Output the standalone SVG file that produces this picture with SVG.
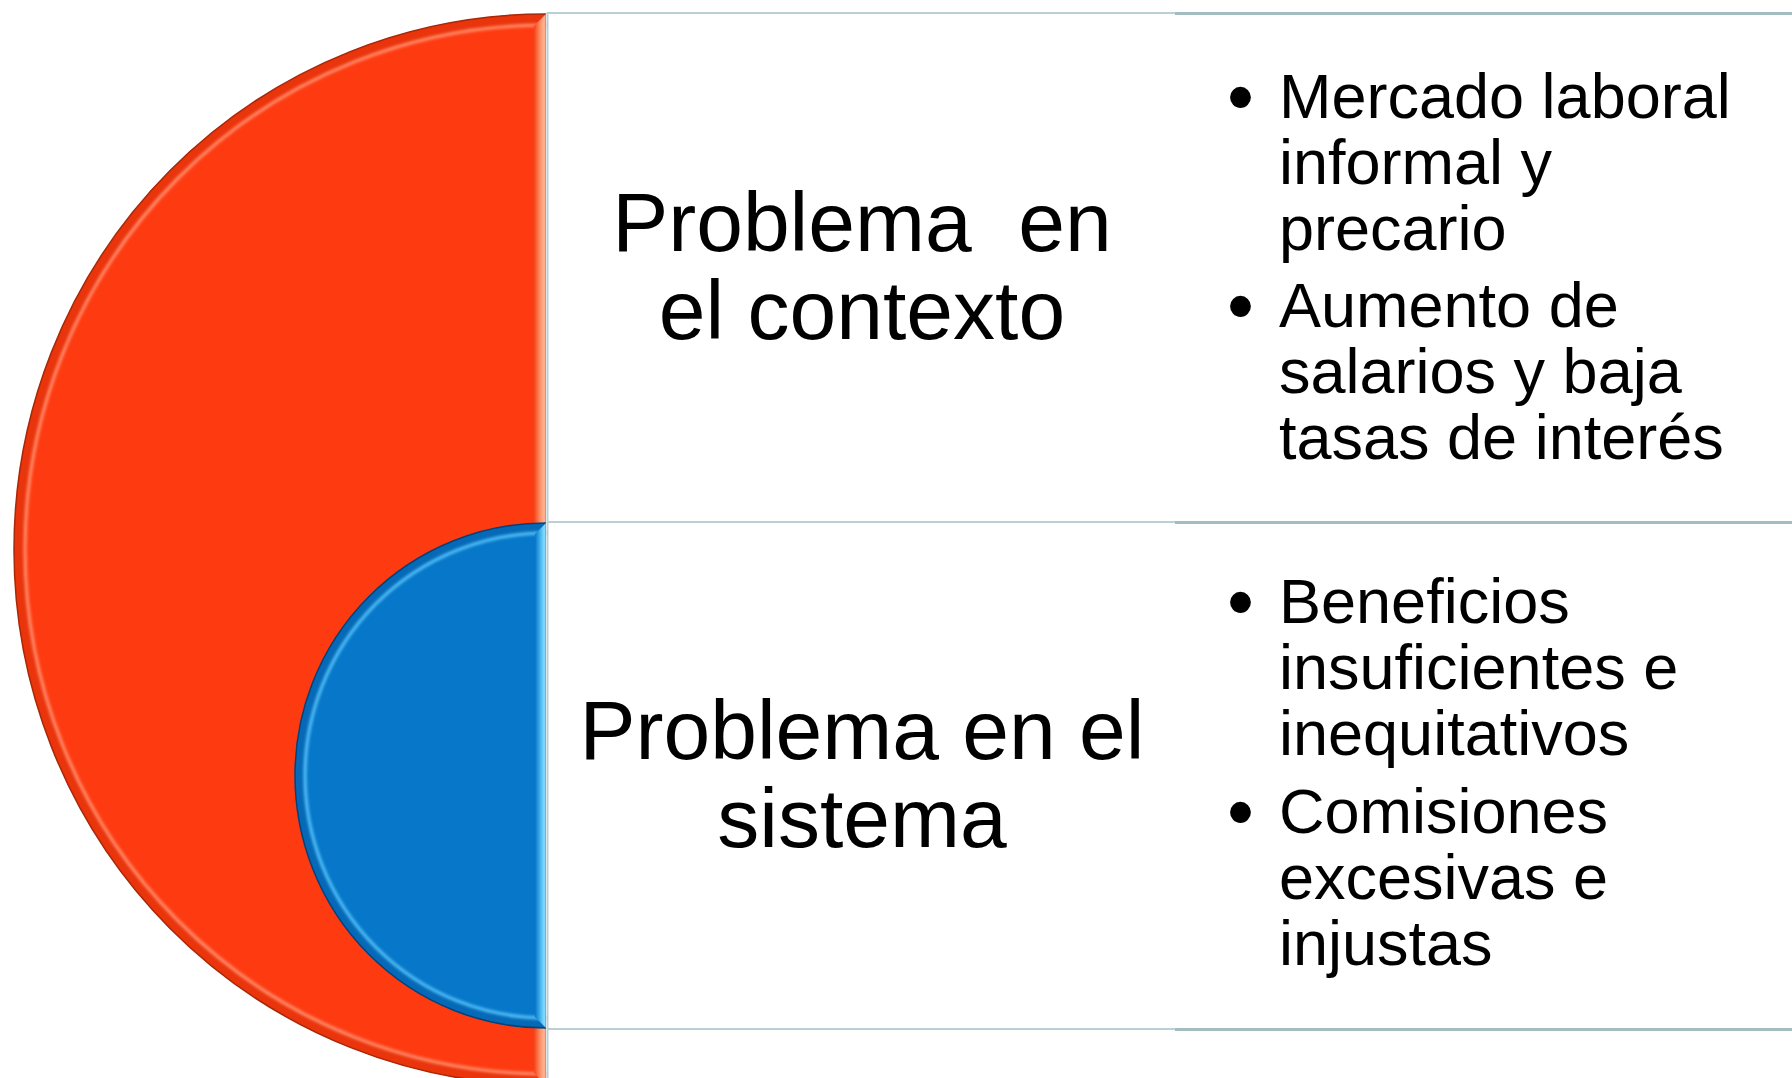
<svg xmlns="http://www.w3.org/2000/svg" width="1792" height="1078" viewBox="0 0 1792 1078">
<defs>
<style>
.lbl{font-family:"Liberation Sans",Arial,sans-serif;font-size:84px;fill:#000;text-anchor:middle}
.blt{font-family:"Liberation Sans",Arial,sans-serif;font-size:63px;fill:#000}
.dot{font-family:"Liberation Sans",Arial,sans-serif;font-size:77px;fill:#000}
.gridA{stroke:#B9D0D4;stroke-width:2;fill:none}
.gridB{stroke:#A3BCC0;stroke-width:3;fill:none}
.hl{fill:none;stroke-width:3}
</style>
<linearGradient id="redEdge" x1="0" x2="1" y1="0" y2="0">
<stop offset="0" stop-color="#F0431A"/>
<stop offset="0.5" stop-color="#FF8D62"/>
<stop offset="0.85" stop-color="#FFB898"/>
<stop offset="1" stop-color="#EE7A55"/>
</linearGradient>
<linearGradient id="blueEdge" x1="0" x2="1" y1="0" y2="0">
<stop offset="0" stop-color="#0A74C4"/>
<stop offset="0.5" stop-color="#46B6F2"/>
<stop offset="0.85" stop-color="#8ADCFF"/>
<stop offset="1" stop-color="#4AA6E0"/>
</linearGradient>
<clipPath id="redClip"><path d="M546 14 A532 535.5 0 0 0 546 1085 Z"/></clipPath>
<clipPath id="blueClip"><path d="M546 523 A251 252.5 0 0 0 546 1028 Z"/></clipPath>
<filter id="soft" x="-5%" y="-5%" width="110%" height="110%"><feGaussianBlur stdDeviation="1.6"/></filter>
</defs>
<rect width="1792" height="1078" fill="#FFFFFF"/>

<g id="table-grid">
<line class="gridA" x1="547" y1="13" x2="1175" y2="13"/>
<line class="gridB" x1="1175" y1="13.5" x2="1792" y2="13.5"/>
<line class="gridA" x1="547" y1="522" x2="1175" y2="522"/>
<line class="gridB" x1="1175" y1="522.5" x2="1792" y2="522.5"/>
<line class="gridA" x1="547" y1="1029" x2="1175" y2="1029"/>
<line class="gridB" x1="1175" y1="1029.5" x2="1792" y2="1029.5"/>
<line class="gridA" x1="547.5" y1="12" x2="547.5" y2="1078"/>
</g>

<g id="node-contexto">
<g id="red-shape">
<path d="M546 14 A532 535.5 0 0 0 546 1085 Z" fill="#FE3A11"/>
<path d="M546 14 A532 535.5 0 0 0 546 1085" fill="none" stroke="#D9300A" stroke-width="20" opacity="0.55" clip-path="url(#redClip)"/>
<path class="hl" d="M546 25 A521 524.5 0 0 0 546 1074" stroke="#FF9270" filter="url(#soft)"/>
<path d="M546 14 A532 535.5 0 0 0 546 1085" fill="none" stroke="#A82808" stroke-width="1.5"/>
<polygon points="534,26 546,14 546,1085 534,1073" fill="url(#redEdge)"/>
</g>
<text class="lbl" xml:space="preserve"><tspan x="862" y="251">Problema  en</tspan><tspan x="862" y="339">el contexto</tspan></text>
<g id="bullets-contexto">
<text class="dot" x="1227" y="123">•</text>
<text class="blt"><tspan x="1279" y="118">Mercado laboral</tspan><tspan x="1279" y="184">informal y</tspan><tspan x="1279" y="250">precario</tspan></text>
<text class="dot" x="1227" y="332">•</text>
<text class="blt"><tspan x="1279" y="327">Aumento de</tspan><tspan x="1279" y="393">salarios y baja</tspan><tspan x="1279" y="459">tasas de interés</tspan></text>
</g>
</g>

<g id="node-sistema">
<g id="blue-shape">
<path d="M546 523 A251 252.5 0 0 0 546 1028 Z" fill="#0677C9"/>
<path d="M546 523 A251 252.5 0 0 0 546 1028" fill="none" stroke="#0560AC" stroke-width="18" opacity="0.6" clip-path="url(#blueClip)"/>
<path class="hl" d="M546 533 A241 242.5 0 0 0 546 1018" stroke="#58C4FA" filter="url(#soft)"/>
<path d="M546 523 A251 252.5 0 0 0 546 1028" fill="none" stroke="#04427A" stroke-width="1.5"/>
<polygon points="535,534 546,523 546,1028 535,1017" fill="url(#blueEdge)"/>
</g>
<text class="lbl"><tspan x="862" y="759">Problema en el</tspan><tspan x="862" y="847">sistema</tspan></text>
<g id="bullets-sistema">
<text class="dot" x="1227" y="628">•</text>
<text class="blt"><tspan x="1279" y="623">Beneficios</tspan><tspan x="1279" y="689">insuficientes e</tspan><tspan x="1279" y="755">inequitativos</tspan></text>
<text class="dot" x="1227" y="838">•</text>
<text class="blt"><tspan x="1279" y="833">Comisiones</tspan><tspan x="1279" y="899">excesivas e</tspan><tspan x="1279" y="965">injustas</tspan></text>
</g>
</g>

<g id="connectors"></g>
</svg>
